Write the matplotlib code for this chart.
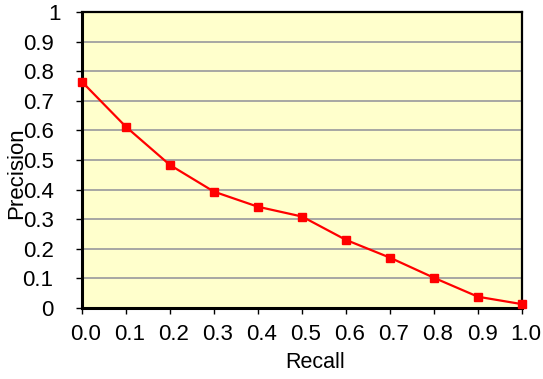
import matplotlib
matplotlib.use("Agg")
import matplotlib.pyplot as plt
from matplotlib.transforms import ScaledTranslation

recall = [0.0, 0.1, 0.2, 0.3, 0.4, 0.5, 0.6, 0.7, 0.8, 0.9, 1.0]
precision = [0.764, 0.612, 0.483, 0.393, 0.342, 0.309, 0.230, 0.170, 0.102, 0.038, 0.013]
x_ticks = [0.0, 0.1, 0.2, 0.3, 0.4, 0.5, 0.6, 0.7, 0.8, 0.9, 1.0]
x_labels = ["0.0", "0.1", "0.2", "0.3", "0.4", "0.5", "0.6", "0.7", "0.8", "0.9", "1.0"]
y_ticks = [0, 0.1, 0.2, 0.3, 0.4, 0.5, 0.6, 0.7, 0.8, 0.9, 1]
y_labels = ["0", "0.1", "0.2", "0.3", "0.4", "0.5", "0.6", "0.7", "0.8", "0.9", "1"]

plt.rcParams['font.family'] = ['Liberation Sans', 'DejaVu Sans']

W, H = 543, 379
fig = plt.figure(figsize=(W / 100, H / 100), dpi=100)
# plot area in pixels: left 82, right 522, top 12, bottom 308
ax = fig.add_axes([82 / W, 1 - 308 / H, 440 / W, 296 / H])
ax.set_facecolor('#ffffcc')

for y in y_ticks[1:-1]:
    ax.axhline(y, color='#a0a0a0', lw=1.3, zorder=1)

ax.plot(recall, precision, color='#ff0000', lw=1.6, marker='s', markersize=6,
        markerfacecolor='#ff0000', markeredgecolor='#ff0000', zorder=3, clip_on=False)

ax.set_xlim(0, 1)
ax.set_ylim(0, 1)
ax.set_xticks(x_ticks)
ax.set_xticklabels(x_labels)
ax.set_yticks(y_ticks)
ax.set_yticklabels(y_labels)
ax.tick_params(direction='out', length=4.5, width=1, labelsize=16, color='black')
ax.tick_params(axis='x', pad=7)
ax.tick_params(axis='y', pad=16)

# excel puts the x labels a bit right of the ticks
shift = ScaledTranslation(4 / 100, 0, fig.dpi_scale_trans)
for lab in ax.get_xticklabels():
    lab.set_transform(lab.get_transform() + shift)
# and the "1" at the top sits further right than the others
top = ax.get_yticklabels()[-1]
top.set_transform(top.get_transform() + ScaledTranslation(7 / 100, 0, fig.dpi_scale_trans))

for side in ['left', 'bottom']:
    ax.spines[side].set_linewidth(2.2)
for side in ['top', 'right']:
    ax.spines[side].set_linewidth(1.6)

fig.text(16.5 / W, 1 - 173 / H, "Precision", rotation=90, fontsize=16,
         ha='center', va='center')
fig.text(315 / W, 1 - 362 / H, "Recall", fontsize=15.5, ha='center', va='center')

fig.savefig("out.png", dpi=100)
